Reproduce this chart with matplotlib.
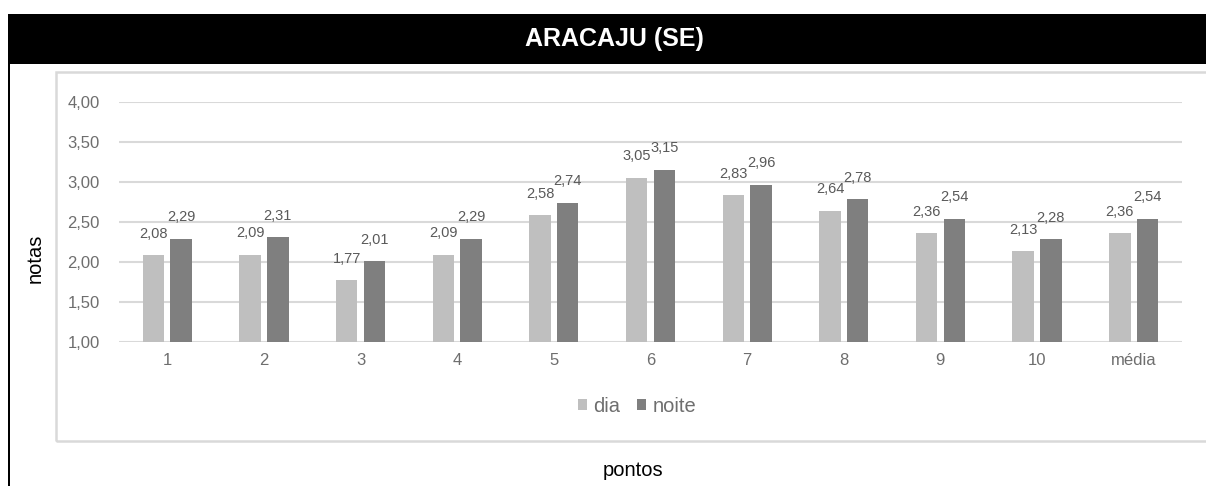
import matplotlib
matplotlib.use("Agg")
import matplotlib.pyplot as plt
from matplotlib.patches import Rectangle, Patch

categories = ["1", "2", "3", "4", "5", "6", "7", "8", "9", "10", "média"]
dia = [2.08, 2.09, 1.77, 2.09, 2.58, 3.05, 2.83, 2.64, 2.36, 2.13, 2.36]
noite = [2.29, 2.31, 2.01, 2.29, 2.74, 3.15, 2.96, 2.78, 2.54, 2.28, 2.54]
yticks = [1.0, 1.5, 2.0, 2.5, 3.0, 3.5, 4.0]
ytick_labels = ["1,00", "1,50", "2,00", "2,50", "3,00", "3,50", "4,00"]
series_names = ["dia", "noite"]
title = "ARACAJU (SE)"

W, H = 1206, 486
plt.rcParams['font.family'] = ['Liberation Sans', 'DejaVu Sans']
fig = plt.figure(figsize=(W / 100, H / 100), dpi=100)

def fx(px):
    return px / W

def fy(py):
    return 1 - py / H

# Black title bar and left border
fig.patches.append(Rectangle((fx(8), fy(64)), fx(W + 10) - fx(8), fy(14) - fy(64),
                             transform=fig.transFigure, facecolor='black', edgecolor='none', zorder=-2))
fig.patches.append(Rectangle((fx(8), fy(H + 5)), fx(10) - fx(8), fy(64) - fy(H + 5),
                             transform=fig.transFigure, facecolor='black', edgecolor='none', zorder=-2))
fig.text(fx(614), fy(39), title, color='white', fontsize=18, fontweight='bold',
         ha='center', va='center')

# Inner chart frame (light gray)
fig.patches.append(Rectangle((fx(56), fy(441)), fx(1225) - fx(56), fy(72) - fy(441),
                             transform=fig.transFigure, facecolor='none', edgecolor='#D9D9D9',
                             linewidth=1.8, zorder=-2))

ax = fig.add_axes([fx(119), fy(342), fx(1182) - fx(119), fy(101.7) - fy(342)])
ax.set_facecolor('none')
ax.set_zorder(1)

x = list(range(len(categories)))
w = 0.222
off = 0.143
light, dark = '#BFBFBF', '#7F7F7F'
b1 = ax.bar([i - off for i in x], [v - 1 for v in dia], bottom=1, width=w, color=light, zorder=3)
b2 = ax.bar([i + off for i in x], [v - 1 for v in noite], bottom=1, width=w, color=dark, zorder=3)

lab_color = '#595959'
for i in x:
    for xi, v in ((i - off, dia[i]), (i + off, noite[i])):
        ax.annotate(f"{v:.2f}".replace('.', ','), (xi, v), xytext=(0, 15.5),
                    textcoords='offset points', ha='center', va='center',
                    fontsize=10.5, color=lab_color, zorder=4)

ax.set_xlim(-0.5, len(categories) - 0.5)
ax.set_ylim(1.0, 4.0)
ax.set_yticks(yticks)
ax.set_yticklabels(ytick_labels)
ax.set_xticks(x)
ax.set_xticklabels(categories)
ax.tick_params(axis='both', length=0, colors='#6E6E6E', labelsize=12)
ax.tick_params(axis='y', pad=14)
ax.tick_params(axis='x', pad=8)
for s in ax.spines.values():
    s.set_visible(False)
ax.grid(axis='y', color='#D9D9D9', linewidth=1.5, zorder=0)
ax.set_axisbelow(True)

fig.text(fx(35), fy(258), "notas", rotation=90, ha='center', va='center', fontsize=14.5, color='black')
fig.text(fx(633), fy(470), "pontos", ha='center', va='center', fontsize=14.5, color='black')

handles = [Patch(facecolor=light, edgecolor='none'), Patch(facecolor=dark, edgecolor='none')]
leg = fig.legend(handles, series_names, loc='center', bbox_to_anchor=(fx(637), fy(406)),
                 ncol=2, frameon=False, fontsize=14.5, handlelength=0.45, handleheight=0.45,
                 handletextpad=0.3, columnspacing=0.85, borderpad=0)
for t in leg.get_texts():
    t.set_color('#6E6E6E')

fig.savefig("out.png", dpi=100)
